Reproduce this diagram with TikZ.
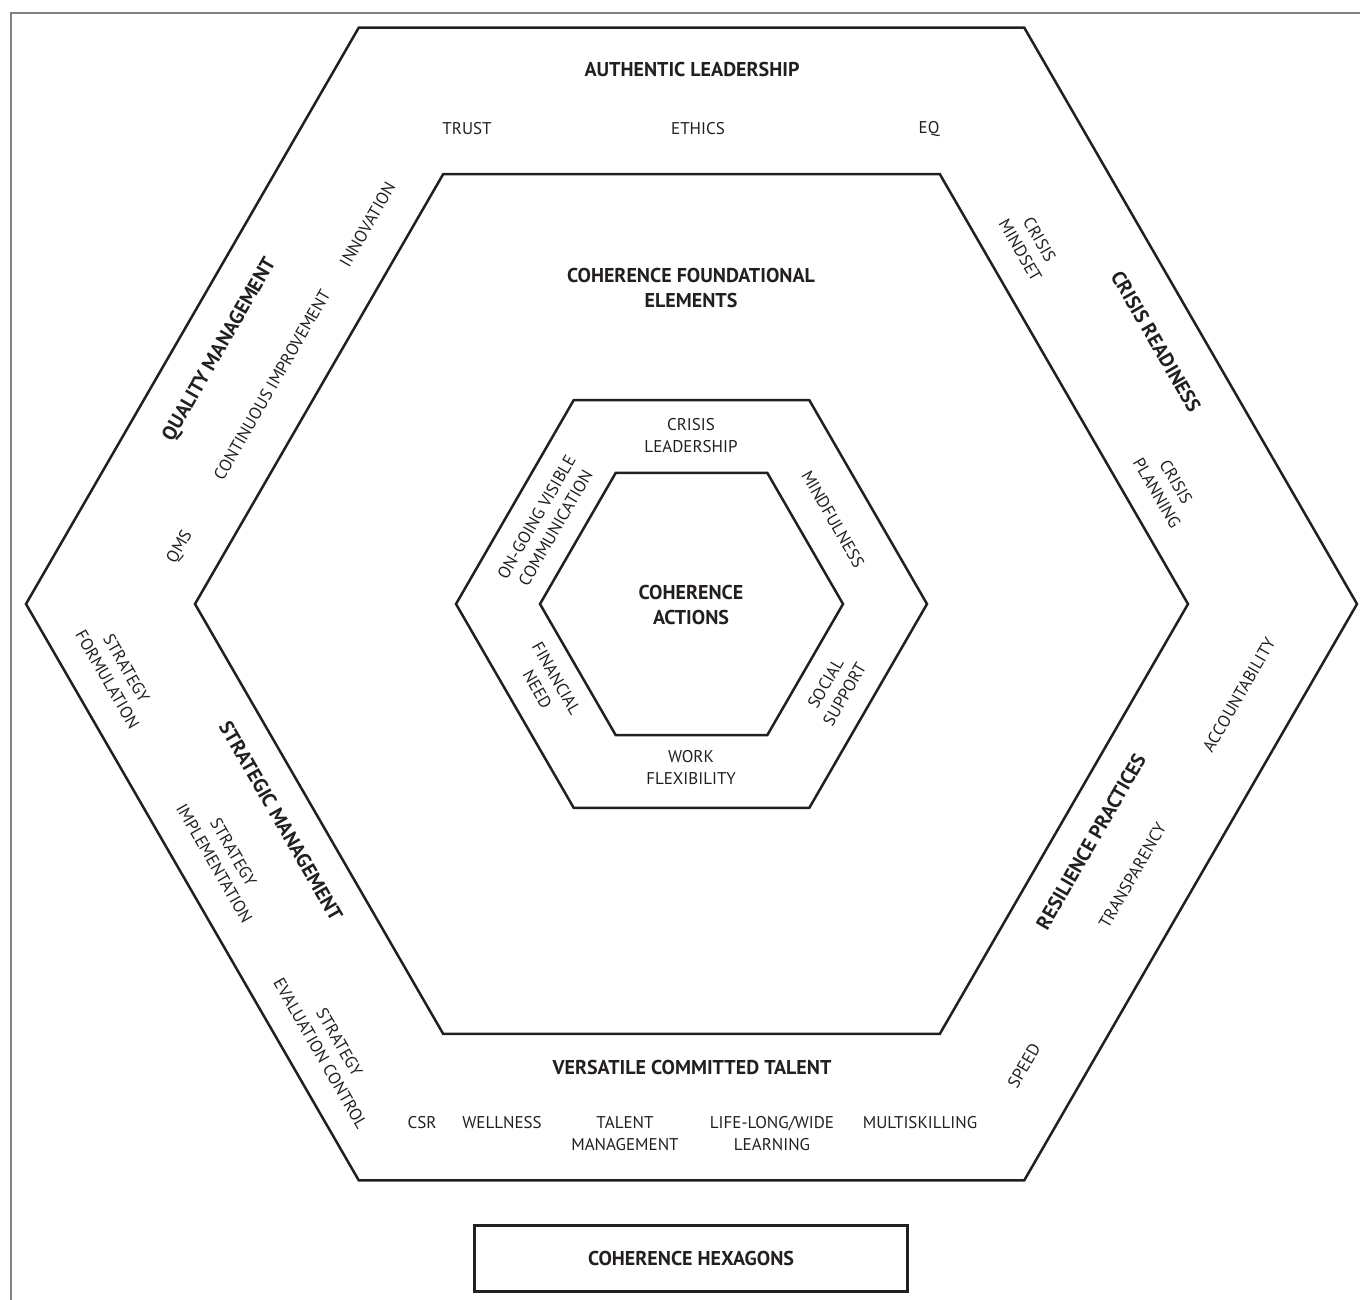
\documentclass[tikz,border=0pt]{standalone}
\usepackage{fontspec}
\setmainfont{PT Sans}
\usepackage{tikz}

\definecolor{ink}{RGB}{35,31,32}
\definecolor{framegray}{RGB}{128,128,128}

\tikzset{
  hexline/.style={draw=ink, line width=2.5pt, line join=miter},
  lbl/.style={text=ink, font=\fontsize{17}{22}\selectfont, align=center, inner sep=0pt},
  ttl/.style={text=ink, font=\fontsize{20}{25}\selectfont\bfseries, align=center, inner sep=0pt},
}

\begin{document}
\begin{tikzpicture}[x=1pt,y=-1pt]
\useasboundingbox (0,0) rectangle (1360,1300);

    % frame
    \draw[framegray, line width=1.2pt] (11,1300) |- (1360,13);

    % four nested hexagons
    \foreach \r in {665.5,496.5,235.5,151.5}
        \draw[hexline, shift={(691.5,604)}] (0:\r) -- (60:\r) -- (120:\r)
            -- (180:\r) -- (240:\r) -- (300:\r) -- cycle;

    % outer band, top
    \node[ttl] (authentic) at (692,70) {AUTHENTIC LEADERSHIP};
    \node[lbl] (trust)  at (467,129) {TRUST};
    \node[lbl] (ethics) at (698,129) {ETHICS};
    \node[lbl] (eq)     at (929,129) {EQ};

    % outer band, upper left
    \node[ttl, rotate=60] (quality) at (220,350) {QUALITY MANAGEMENT};
    \node[lbl, rotate=60] (contimp) at (272,385) {CONTINUOUS IMPROVEMENT};
    \node[lbl, rotate=60] (innov)   at (367.5,224.5) {INNOVATION};
    \node[lbl, rotate=60] (qms)     at (180,547) {QMS};

    % outer band, lower left
    \node[lbl, rotate=-60] (stratform) at (117,674) {STRATEGY\\FORMULATION};
    \node[ttl, rotate=-60] (stratmgmt) at (281,821) {STRATEGIC MANAGEMENT};
    \node[lbl, rotate=-60] (stratimpl) at (224,858) {STRATEGY\\IMPLEMENTATION};
    \node[lbl, rotate=-60] (strateval) at (330,1048) {STRATEGY\\EVALUATION CONTROL};

    % outer band, bottom
    \node[ttl] (versatile) at (692,1067) {VERSATILE COMMITTED TALENT};
    \node[lbl] (csr)      at (422,1123) {CSR};
    \node[lbl] (wellness) at (502,1123) {WELLNESS};
    \node[lbl] (talent)   at (625,1134) {TALENT\\MANAGEMENT};
    \node[lbl] (lifelong) at (772,1134) {LIFE-LONG/WIDE\\LEARNING};
    \node[lbl] (multi)    at (920,1123) {MULTISKILLING};

    % outer band, lower right
    \node[lbl, rotate=60] (speed)   at (1024,1065.5) {SPEED};
    \node[ttl, rotate=60] (resil)   at (1091,841.5) {RESILIENCE PRACTICES};
    \node[lbl, rotate=60] (transp)  at (1132.5,875.5) {TRANSPARENCY};
    \node[lbl, rotate=60] (account) at (1239,695) {ACCOUNTABILITY};

    % outer band, upper right
    \node[lbl, rotate=-60] (crisismind) at (1030,245) {CRISIS\\MINDSET};
    \node[ttl, rotate=-60] (readiness)  at (1156,341.5) {CRISIS READINESS};
    \node[lbl, rotate=-60] (crisisplan) at (1166.5,487.5) {CRISIS\\PLANNING};

    % middle band
    \node[ttl] (found) at (691,288) {COHERENCE FOUNDATIONAL\\ELEMENTS};

    % inner ring
    \node[lbl] (crisislead) at (691,436) {CRISIS\\LEADERSHIP};
    \node[lbl, rotate=60]  (ongoing)   at (546,522.5) {ON-GOING VISIBLE\\COMMUNICATION};
    \node[lbl, rotate=-60] (mindful)   at (833,519) {MINDFULNESS};
    \node[lbl, rotate=-60] (financial) at (547,684) {FINANCIAL\\NEED};
    \node[lbl, rotate=60]  (social)    at (835,689) {SOCIAL\\SUPPORT};
    \node[lbl] (work) at (691,768) {WORK\\FLEXIBILITY};

    % core
    \node[ttl] (actions) at (691,605) {COHERENCE\\ACTIONS};

    % caption box
    \node[ttl, draw=ink, line width=2.8pt, minimum width=433pt, minimum height=66pt]
        (hexbox) at (691,1258.5) {COHERENCE HEXAGONS};

\end{tikzpicture}
\end{document}
